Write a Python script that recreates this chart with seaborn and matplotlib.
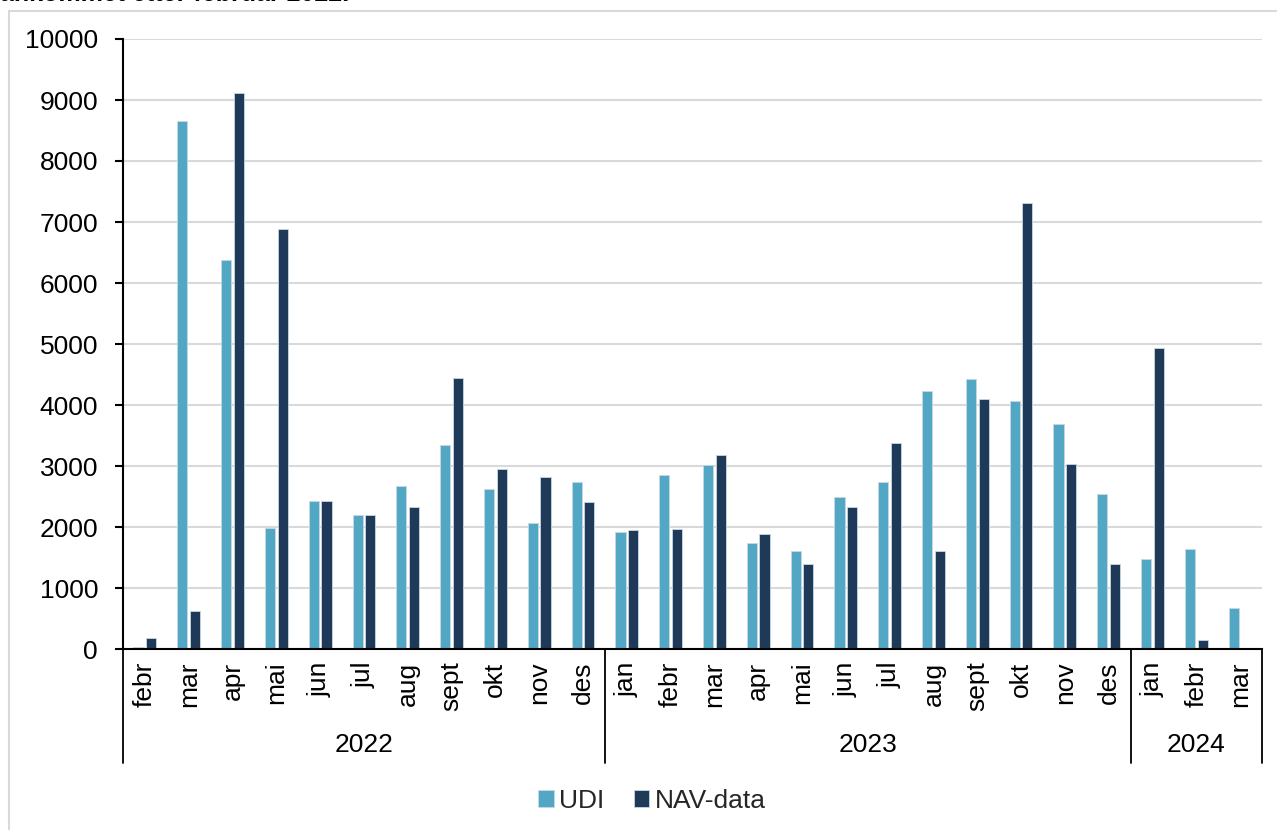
import numpy as np
import pandas as pd
import matplotlib
matplotlib.use("Agg")
import matplotlib.pyplot as plt
import matplotlib.transforms as mtransforms
from matplotlib.lines import Line2D
import seaborn as sns

# ---------------- data ----------------
years = ["2022"] * 11 + ["2023"] * 12 + ["2024"] * 3
months = ["febr", "mar", "apr", "mai", "jun", "jul", "aug", "sept", "okt", "nov", "des",
          "jan", "febr", "mar", "apr", "mai", "jun", "jul", "aug", "sept", "okt", "nov", "des",
          "jan", "febr", "mar"]
udi = [30, 8650, 6370, 1980, 2420, 2190, 2670, 3340, 2620, 2070, 2740,
       1920, 2850, 3020, 1740, 1610, 2490, 2740, 4230, 4430, 4070, 3690, 2540,
       1470, 1640, 680]
nav = [180, 630, 9120, 6890, 2430, 2200, 2330, 4450, 2950, 2820, 2410,
       1950, 1970, 3180, 1880, 1390, 2330, 3380, 1600, 4100, 7310, 3030, 1400,
       4930, 150, np.nan]
series = ["UDI", "NAV-data"]
year_labels = ["2022", "2023", "2024"]
title_text = "ankommet etter februar 2022."

keys = [f"{y}-{m}" for y, m in zip(years, months)]
df = pd.DataFrame({
    "key": keys * 2,
    "value": udi + nav,
    "serie": [series[0]] * len(keys) + [series[1]] * len(keys),
})

# ---------------- style ----------------
sns.set_theme(style="white")
plt.rcParams["font.family"] = ["Liberation Sans", "DejaVu Sans"]
FS = 19

W, H = 1277, 830
fig = plt.figure(figsize=(W / 100, H / 100), dpi=100)
ax = fig.add_axes([123 / W, 1 - 649 / H, (1262 - 123) / W, (649 - 39) / H])

colors = {"UDI": "#52A8C4", "NAV-data": "#1F3A58"}
sns.barplot(data=df, x="key", y="value", hue="serie", order=keys, hue_order=series,
            palette=colors, width=0.58, gap=0.2, ax=ax,
            edgecolor="#c9d7e2", linewidth=0.6, saturation=1)

ax.set_xlim(-0.5, len(keys) - 0.5)
ax.set_ylim(0, 10000)
ax.set_yticks(np.arange(0, 10001, 1000))
ax.set_yticklabels([str(v) for v in range(0, 10001, 1000)], fontsize=FS, color="black")
ax.set_xticks(range(len(keys)))
ax.set_xticklabels(months, rotation=90, fontsize=FS, color="black")
ax.tick_params(axis="x", length=0, pad=9)
ax.tick_params(axis="y", length=6, width=1.5, color="black", direction="out", pad=12, left=True)
ax.set_xlabel("")
ax.set_ylabel("")

ax.yaxis.grid(True, color="#d9d9d9", linewidth=1.5)
ax.set_axisbelow(True)
for s in ["top", "right"]:
    ax.spines[s].set_visible(False)
ax.spines["left"].set_color("black")
ax.spines["left"].set_linewidth(1.5)
ax.spines["bottom"].set_color("black")
ax.spines["bottom"].set_linewidth(1.5)

# group separators and year labels
trans = mtransforms.blended_transform_factory(ax.transData, ax.transAxes)
bounds = [-0.5, 10.5, 22.5, 25.5]
for b in bounds:
    ax.add_line(Line2D([b, b], [0, -0.187], transform=trans, color="black",
                       linewidth=1.3, clip_on=False))
for i, yl in enumerate(year_labels):
    cx = (bounds[i] + bounds[i + 1]) / 2
    ax.text(cx, -0.157, yl, transform=trans, ha="center", va="center",
            fontsize=FS, color="black")

# legend
handles, labels = ax.get_legend_handles_labels()
if ax.legend_ is not None:
    ax.legend_.remove()
fig.legend(handles, labels, loc="center", bbox_to_anchor=(652 / W, 1 - 801 / H),
           ncol=2, frameon=False, fontsize=FS, handlelength=0.6, handleheight=0.6,
           handletextpad=0.2, columnspacing=1.1)

# outer border and clipped title
fig.add_artist(Line2D([9 / W, 9 / W], [0, 1 - 11 / H], transform=fig.transFigure,
                      color="#d9d9d9", linewidth=1.5))
fig.add_artist(Line2D([9 / W, 1.0], [1 - 11 / H, 1 - 11 / H], transform=fig.transFigure,
                      color="#d9d9d9", linewidth=1.5))
fig.text(0 / W, 1 - 1 / H, title_text, ha="left", va="baseline", fontsize=18,
         fontweight="bold", color="black")

fig.savefig("out.png", dpi=100)
